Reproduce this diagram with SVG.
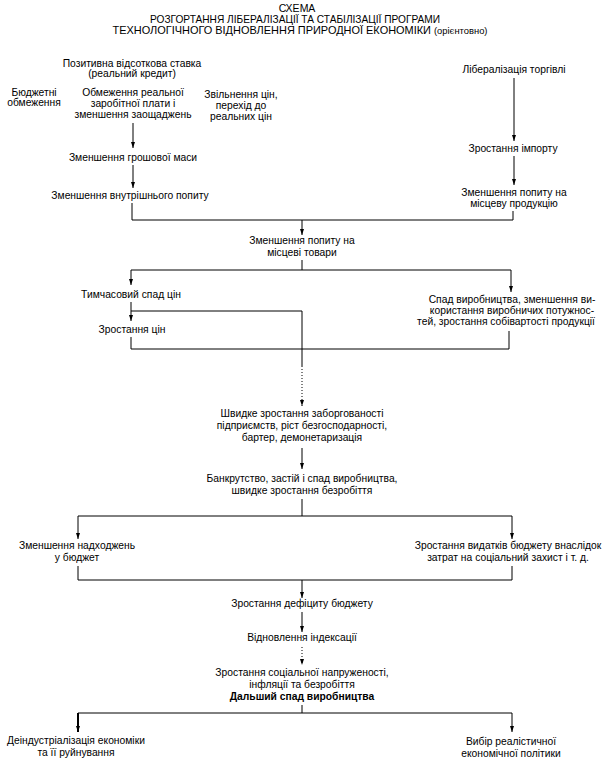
<svg xmlns="http://www.w3.org/2000/svg" width="613" height="769" viewBox="0 0 613 769">
<defs>
<marker id="ah" viewBox="0 0 10 10" refX="10" refY="5" markerWidth="6" markerHeight="4" markerUnits="userSpaceOnUse" orient="auto" preserveAspectRatio="none">
<path d="M0,0 L10,5 L0,10 z" fill="#000"/>
</marker>
</defs>
<style>
text{font-family:"Liberation Sans",Arial,sans-serif;font-size:10.3px;fill:#000;text-anchor:middle}
.t{font-size:10.5px}
.s{font-size:9px}
.b{font-weight:bold}
.c line,.c polyline{stroke:#000;stroke-width:1;fill:none}
.c .a{marker-end:url(#ah)}
.c .d{stroke-dasharray:1 2}
.c .k{stroke-width:2}
</style>
<rect width="613" height="769" fill="#fff"/>
<g id="title">
<text class="t" x="297" y="12">СХЕМА</text>
<text class="t" x="295" y="23" textLength="290" lengthAdjust="spacingAndGlyphs">РОЗГОРТАННЯ ЛІБЕРАЛІЗАЦІЇ ТА СТАБІЛІЗАЦІЇ ПРОГРАМИ</text>
<text class="t" x="300" y="34" textLength="375" lengthAdjust="spacingAndGlyphs">ТЕХНОЛОГІЧНОГО ВІДНОВЛЕННЯ ПРИРОДНОЇ ЕКОНОМІКИ <tspan class="s">(орієнтовно)</tspan></text>
</g>
<g id="n1"><text x="132" y="67">Позитивна відсоткова ставка</text><text x="132" y="77">(реальний кредит)</text></g>
<g id="n2"><text x="514" y="73">Лібералізація торгівлі</text></g>
<g id="n3"><text x="34" y="96">Бюджетні</text><text x="34" y="106">обмеження</text></g>
<g id="n4"><text x="133" y="96">Обмеження реальної</text><text x="133" y="107">заробітної плати і</text><text x="133" y="118">зменшення заощаджень</text></g>
<g id="n5"><text x="241" y="98">Звільнення цін,</text><text x="241" y="109">перехід до</text><text x="241" y="120">реальних цін</text></g>
<g id="n6"><text x="133" y="161">Зменшення грошової маси</text></g>
<g id="n7"><text x="130" y="199">Зменшення внутрішнього попиту</text></g>
<g id="n8"><text x="513" y="152">Зростання імпорту</text></g>
<g id="n9"><text x="514" y="196">Зменшення попиту на</text><text x="514" y="207">місцеву продукцію</text></g>
<g id="n10"><text x="302" y="244">Зменшення попиту на</text><text x="302" y="256">місцеві товари</text></g>
<g id="n11"><text x="131" y="298">Тимчасовий спад цін</text></g>
<g id="n12"><text x="512" y="303">Спад виробництва, зменшення ви-</text><text x="512" y="314">користання виробничих потужнос-</text><text x="506" y="325">тей, зростання собівартості продукції</text></g>
<g id="n13"><text x="132" y="333">Зростання цін</text></g>
<g id="n14"><text x="302" y="417">Швидке зростання заборгованості</text><text x="302" y="429">підприємств, ріст безгосподарності,</text><text x="302" y="441">бартер, демонетаризація</text></g>
<g id="n15"><text x="302" y="482">Банкрутство, застій і спад виробництва,</text><text x="302" y="494">швидке зростання безробіття</text></g>
<g id="n16"><text x="77" y="549">Зменшення надходжень</text><text x="77" y="561">у бюджет</text></g>
<g id="n17"><text x="508" y="549">Зростання видатків бюджету внаслідок</text><text x="508" y="561">затрат на соціальний захист і т. д.</text></g>
<g id="n18"><text x="302" y="607">Зростання дефіциту бюджету</text></g>
<g id="n19"><text x="302" y="641">Відновлення індексації</text></g>
<g id="n20"><text x="302" y="676">Зростання соціальної напруженості,</text><text x="302" y="688">інфляції та безробіття</text><text class="b" x="302" y="700">Дальший спад виробництва</text></g>
<g id="n21"><text x="76" y="744">Деіндустріалізація економіки</text><text x="76" y="756">та її руйнування</text></g>
<g id="n22"><text x="511" y="745">Вибір реалістичної</text><text x="511" y="757">економічної політики</text></g>
<g id="connectors" class="c">
<line class="a" x1="133" y1="123" x2="133" y2="148"/>
<line class="a" x1="133" y1="165" x2="133" y2="188"/>
<line class="a" x1="514" y1="78" x2="514" y2="141"/>
<line class="a" x1="514" y1="156" x2="514" y2="185"/>
<polyline points="132,203 132,220 513,220 513,211"/>
<line class="a" x1="302" y1="220" x2="302" y2="235"/>
<line x1="302" y1="260" x2="302" y2="270"/>
<line x1="131" y1="270" x2="511" y2="270"/>
<line class="a" x1="131" y1="270" x2="131" y2="285"/>
<line class="a" x1="511" y1="270" x2="511" y2="292"/>
<line class="a" x1="131" y1="302" x2="131" y2="321"/>
<polyline points="131,311 302,311 302,366"/>
<line class="a d" x1="302" y1="366" x2="302" y2="406"/>
<polyline points="131,337 131,349 509,349 509,331"/>
<line class="a" x1="302" y1="448" x2="302" y2="469"/>
<line x1="302" y1="499" x2="302" y2="516"/>
<line x1="78" y1="516" x2="512" y2="516"/>
<line class="a" x1="78" y1="516" x2="78" y2="539"/>
<line class="a" x1="512" y1="516" x2="512" y2="539"/>
<polyline points="78,566 78,580 512,580 512,566"/>
<line class="a" x1="302" y1="580" x2="302" y2="598"/>
<line class="a" x1="302" y1="612" x2="302" y2="632"/>
<line class="a d" x1="302" y1="647" x2="302" y2="665"/>
<line x1="302" y1="705" x2="302" y2="713"/>
<line x1="78" y1="713" x2="512" y2="713"/>
<line class="a k" x1="78" y1="713" x2="78" y2="732"/>
<line class="a" x1="512" y1="713" x2="512" y2="732"/>
</g>
</svg>
